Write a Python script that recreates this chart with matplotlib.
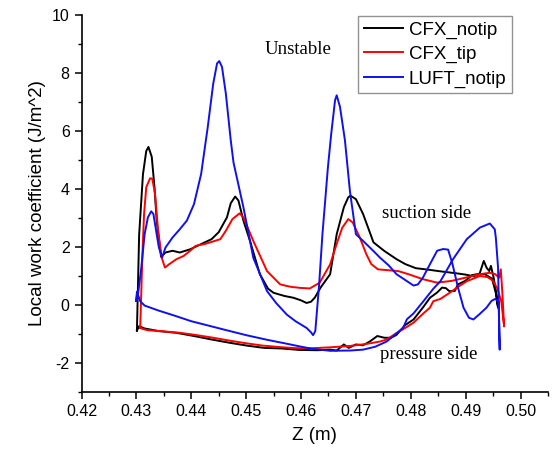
import matplotlib
matplotlib.use("Agg")
import matplotlib.pyplot as plt
from matplotlib.ticker import MultipleLocator, FormatStrFormatter

# ---- data (closed loops: suction side LE->TE, then pressure side TE->LE) ----
cfx_notip_z = [0.4301, 0.4305, 0.4312, 0.4318, 0.4322, 0.4328, 0.4333, 0.4337, 0.4345,
               0.4353, 0.4366, 0.4379, 0.4398, 0.4418, 0.4437, 0.4450, 0.4465, 0.4472,
               0.4480, 0.4486, 0.4495, 0.4507, 0.4525, 0.4540, 0.4550, 0.4570, 0.4586,
               0.4600, 0.4610, 0.4618, 0.4625, 0.4636, 0.4653, 0.4665, 0.4678, 0.4686,
               0.4690, 0.4700, 0.4713, 0.4732, 0.4752, 0.4774, 0.4790, 0.4809, 0.4835,
               0.4854, 0.4880, 0.4899, 0.4915, 0.4925, 0.4933, 0.4938, 0.4943, 0.4946,
               0.4951, 0.4956, 0.4959,
               0.4955, 0.4948, 0.4935, 0.4920, 0.4912, 0.4899, 0.4886, 0.4880, 0.4870,
               0.4864, 0.4857, 0.4848, 0.4835, 0.4822, 0.4805, 0.4790, 0.4774, 0.4764,
               0.4752, 0.4739, 0.4726, 0.4713, 0.4700, 0.4687, 0.4678, 0.4665, 0.4653,
               0.4630, 0.4597, 0.4565, 0.4533, 0.4501, 0.4469, 0.4437, 0.4405, 0.4373,
               0.4341, 0.4315, 0.4305, 0.4301]
cfx_notip_w = [-0.89, 2.40, 4.50, 5.30, 5.44, 5.10, 4.05, 2.90, 1.65,
               1.80, 1.86, 1.80, 1.91, 2.09, 2.26, 2.50, 3.01, 3.50,
               3.73, 3.59, 2.90, 2.20, 1.05, 0.55, 0.41, 0.30, 0.24,
               0.15, 0.06, 0.10, 0.24, 0.60, 1.05, 2.43, 3.36, 3.70,
               3.76, 3.64, 3.13, 2.15, 1.85, 1.57, 1.40, 1.26, 1.20,
               1.15, 1.09, 1.04, 0.98, 1.05, 1.51, 1.28, 1.16, 1.34,
               0.93, 0.36, -0.11,
               0.40, 0.90, 1.05, 1.05, 1.02, 0.82, 0.70, 0.47, 0.47,
               0.57, 0.59, 0.42, 0.24, -0.10, -0.51, -0.70, -1.04, -1.14,
               -1.14, -1.08, -1.26, -1.40, -1.37, -1.49, -1.37, -1.58, -1.55,
               -1.57, -1.56, -1.51, -1.49, -1.41, -1.31, -1.20, -1.08, -0.97,
               -0.91, -0.82, -0.74, -0.89]

cfx_tip_z = [0.4307, 0.4309, 0.4311, 0.4314, 0.4318, 0.4325, 0.4329, 0.4334, 0.4339,
             0.4346, 0.4352, 0.4360, 0.4373, 0.4386, 0.4398, 0.4408, 0.4424, 0.4443,
             0.4453, 0.4463, 0.4475, 0.4488, 0.4495, 0.4513, 0.4538, 0.4562, 0.4580,
             0.4598, 0.4616, 0.4634, 0.4653, 0.4665, 0.4675, 0.4686, 0.4694, 0.4707,
             0.4719, 0.4728, 0.4740, 0.4758, 0.4777, 0.4796, 0.4822, 0.4848, 0.4874,
             0.4899, 0.4925, 0.4944, 0.4954, 0.4961, 0.4964, 0.4967, 0.4970,
             0.4965, 0.4958, 0.4950, 0.4940, 0.4926, 0.4902, 0.4885, 0.4870, 0.4854,
             0.4841, 0.4835, 0.4820, 0.4805, 0.4790, 0.4774, 0.4756, 0.4744, 0.4720,
             0.4690, 0.4653, 0.4620, 0.4590, 0.4560, 0.4530, 0.4500, 0.4470, 0.4440,
             0.4410, 0.4380, 0.4350, 0.4320, 0.4309, 0.4307]
cfx_tip_w = [-0.80, 0.47, 1.74, 3.13, 4.05, 4.36, 4.34, 3.82, 2.66,
             1.63, 1.28, 1.40, 1.57, 1.68, 1.86, 2.03, 2.09, 2.20,
             2.26, 2.55, 2.95, 3.15, 3.01, 2.20, 1.16, 0.70, 0.62,
             0.58, 0.56, 0.76, 1.39, 2.10, 2.65, 2.95, 2.84, 2.32,
             1.74, 1.40, 1.22, 1.19, 1.16, 1.05, 0.88, 0.76, 0.82,
             0.93, 1.05, 1.10, 1.05, 0.93, 1.22, 0.36, -0.75,
             0.10, 0.55, 0.82, 0.95, 0.99, 0.81, 0.60, 0.40, 0.20,
             0.12, -0.10, -0.35, -0.62, -0.80, -0.98, -1.20, -1.27, -1.35,
             -1.42, -1.47, -1.50, -1.50, -1.46, -1.41, -1.33, -1.24, -1.14,
             -1.05, -0.97, -0.92, -0.88, -0.82, -0.80]

luft_notip_z = [0.4300, 0.4301, 0.4303, 0.4309, 0.4315, 0.4321, 0.4327, 0.4331, 0.4335,
                0.4341, 0.4347, 0.4353, 0.4366, 0.4379, 0.4392, 0.4405, 0.4418, 0.4430,
                0.4440, 0.4447, 0.4451, 0.4456, 0.4463, 0.4472, 0.4477, 0.4495, 0.4513,
                0.4538, 0.4555, 0.4574, 0.4590, 0.4610, 0.4618, 0.4622, 0.4626, 0.4633,
                0.4639, 0.4649, 0.4655, 0.4662, 0.4665, 0.4671, 0.4680, 0.4689, 0.4700,
                0.4713, 0.4732, 0.4744, 0.4760, 0.4774, 0.4790, 0.4805, 0.4813, 0.4822,
                0.4835, 0.4848, 0.4859, 0.4868, 0.4876, 0.4886, 0.4896, 0.4906, 0.4914,
                0.4925, 0.4938, 0.4947, 0.4954, 0.4960, 0.4962,
                0.4961, 0.4959, 0.4955, 0.4953, 0.4944, 0.4926, 0.4902, 0.4877, 0.4854,
                0.4841, 0.4823, 0.4805, 0.4793, 0.4786, 0.4770, 0.4756, 0.4735, 0.4713,
                0.4690, 0.4653, 0.4620, 0.4598, 0.4570, 0.4538, 0.4500, 0.4460, 0.4425,
                0.4400, 0.4370, 0.4340, 0.4315, 0.4307, 0.4301, 0.4300]
luft_notip_w = [0.13, 0.36, 0.36, 1.28, 2.43, 3.01, 3.22, 3.13, 2.66,
                1.97, 1.63, 1.97, 2.32, 2.60, 2.90, 3.47, 4.51, 6.12,
                7.62, 8.32, 8.40, 8.20, 7.28, 5.66, 4.90, 3.36, 1.62,
                0.47, 0.05, -0.34, -0.57, -0.80, -0.95, -1.05, -0.91, 0.70,
                2.43, 4.74, 5.89, 7.05, 7.22, 6.82, 5.67, 3.93, 2.43,
                2.20, 1.85, 1.62, 1.35, 1.05, 0.85, 0.66, 0.70, 0.93,
                1.40, 1.86, 1.92, 1.90, 1.40, 0.59, -0.10, -0.45, -0.51,
                -0.33, -0.10, 0.13, 0.20, 0.10, -1.55,
                -0.60, 1.28, 2.30, 2.60, 2.80, 2.66, 2.26, 1.57, 0.81,
                0.55, 0.12, -0.30, -0.50, -0.80, -1.05, -1.27, -1.45, -1.55,
                -1.58, -1.59, -1.52, -1.44, -1.33, -1.21, -1.05, -0.86, -0.69,
                -0.57, -0.38, -0.20, -0.03, 0.12, 0.45, 0.13]

series_labels = ["CFX_notip", "CFX_tip", "LUFT_notip"]
series_colors = ["#000000", "#ff0000", "#1010ee"]

x_ticks = [0.42, 0.43, 0.44, 0.45, 0.46, 0.47, 0.48, 0.49, 0.50]
y_ticks = [-2, 0, 2, 4, 6, 8, 10]

annotations = [("Unstable", 0.4594, 8.81),
               ("suction side", 0.4829, 3.13),
               ("pressure side", 0.4832, -1.73)]

# ---- figure ----
plt.rcParams['font.family'] = ['Liberation Sans', 'DejaVu Sans']
plt.rcParams['axes.unicode_minus'] = False
fig = plt.figure(figsize=(5.52, 4.51), dpi=100)
ax = fig.add_axes([81.5 / 552, 1 - 391.7 / 451, (548 - 81.5) / 552, (391.7 - 14.7) / 451])

data = [(cfx_notip_z, cfx_notip_w), (cfx_tip_z, cfx_tip_w), (luft_notip_z, luft_notip_w)]
for (z, w), lab, col in zip(data, series_labels, series_colors):
    ax.plot(z, w, color=col, lw=1.4, label=lab, solid_joinstyle='round')

ax.set_xlim(0.42, 0.505)
ax.set_ylim(-3, 10)
ax.set_xticks(x_ticks)
ax.set_yticks(y_ticks)
ax.xaxis.set_major_formatter(FormatStrFormatter('%.2f'))
ax.xaxis.set_minor_locator(MultipleLocator(0.005))
ax.yaxis.set_minor_locator(MultipleLocator(1))
ax.tick_params(which='major', direction='out', length=5, width=1.1, labelsize=11.5)
ax.tick_params(which='minor', direction='out', length=3, width=1.0)
for s in ['top', 'right']:
    ax.spines[s].set_visible(False)
for s in ['left', 'bottom']:
    ax.spines[s].set_linewidth(1.2)

ax.set_xlabel("Z (m)", fontsize=13.5, labelpad=6)
ax.set_ylabel("Local work coefficient (J/m^2)", fontsize=13.5, labelpad=4)

for txt, xx, yy in annotations:
    ax.text(xx, yy, txt, family=['Liberation Serif', 'DejaVu Serif'], fontsize=13.5,
            ha='center', va='center')

leg = fig.legend(loc='upper left', bbox_to_anchor=(358.3 / 552, 1 - 15.7 / 451),
                 fontsize=13.5, frameon=True, fancybox=False, borderpad=0.3,
                 handlelength=2.1, handletextpad=0.3, labelspacing=0.38,
                 borderaxespad=0)
leg.get_frame().set_edgecolor('#777777')
leg.get_frame().set_linewidth(1.0)

fig.savefig("out.png", dpi=100)
